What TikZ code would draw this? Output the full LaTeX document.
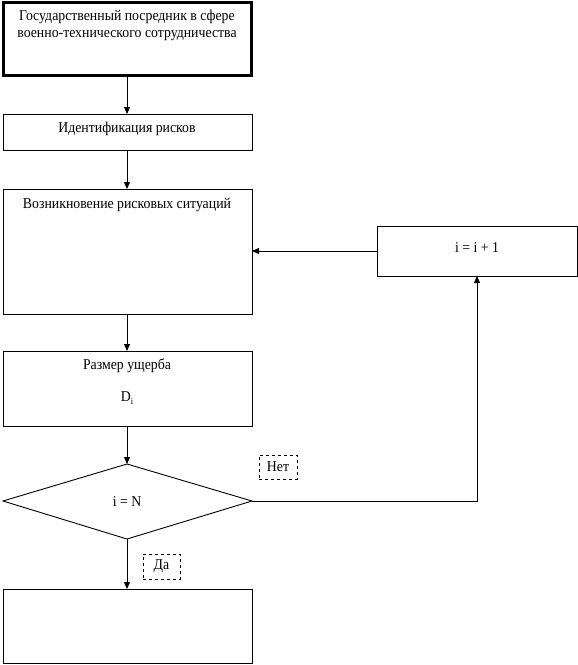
\documentclass[tikz,border=0pt]{standalone}
\usepackage{fontspec}
\setmainfont[FakeStretch=0.92]{Liberation Serif}
\usetikzlibrary{arrows.meta,shapes.geometric}
\begin{document}
\begin{tikzpicture}[x=1pt,y=-1pt,
  box/.style={draw,line width=0.9pt,rectangle,inner sep=0pt},
  lbl/.style={draw,dashed,line width=0.6pt,inner sep=0pt,font=\fontsize{15}{17}\selectfont},
  txt/.style={font=\fontsize{15}{17}\selectfont,align=center,anchor=center},
  arr/.style={line width=0.9pt,-{Triangle[length=7pt,width=6pt]}},
  ln/.style={line width=0.9pt}]
\useasboundingbox (0,0) rectangle (578,665);
% boxes
\draw[line width=2.2pt] (3.5,2.5) rectangle (251.5,75.5);
\coordinate (b1b) at (127,76.5);
\node[txt] (t1) at (127,25.5) {Государственный посредник в сфере\\военно-технического сотрудничества};
\draw[box] (3,114) rectangle (252,150);
\coordinate (b2t) at (127,114); \coordinate (b2b) at (127,150);
\node[txt] (t2) at (127,128.5) {Идентификация рисков};
\draw[box] (3,189) rectangle (252,314);
\coordinate (b3t) at (127,189); \coordinate (b3b) at (127,314); \coordinate (b3r) at (252,251);
\node[txt] (t3) at (127,204.5) {Возникновение рисковых ситуаций};
\draw[box] (377,226) rectangle (577,276);
\coordinate (b5l) at (377,251); \coordinate (b5b) at (477,276);
\node[txt] (t5) at (477,248) {i = i + 1};
\draw[box] (3,351) rectangle (252,426);
\coordinate (b4t) at (127,351); \coordinate (b4b) at (127,426);
\node[txt] (t4) at (127,365.5) {Размер ущерба};
\node[txt] (t4b) at (127,398) {D\raisebox{-0.35ex}{\fontsize{9}{9}\selectfont i}};
% diamond
\draw[ln] (3,501) -- (127,464) -- (252,501) -- (127,539) -- cycle;
\coordinate (dt) at (127,464); \coordinate (dr) at (252,501); \coordinate (db) at (127,539);
\node[txt] (td) at (127,502) {i = N};
\draw[box] (3,589) rectangle (252,663);
\coordinate (b6t) at (127,589);
% labels
\node[lbl,minimum width=38pt,minimum height=24pt] (net) at (278,467) {Нет};
\node[lbl,minimum width=37pt,minimum height=25pt] (da) at (161.5,566.5) {Да};
% arrows
\draw[arr] (b1b) -- (b2t);
\draw[arr] (b2b) -- (b3t);
\draw[arr] (b3b) -- (b4t);
\draw[arr] (b4b) -- (dt);
\draw[arr] (db) -- (b6t);
\draw[arr] (b5l) -- (b3r);
\coordinate (corner) at (477,501);
\draw[arr] (dr) -- (corner) -- (b5b);
\end{tikzpicture}
\end{document}
